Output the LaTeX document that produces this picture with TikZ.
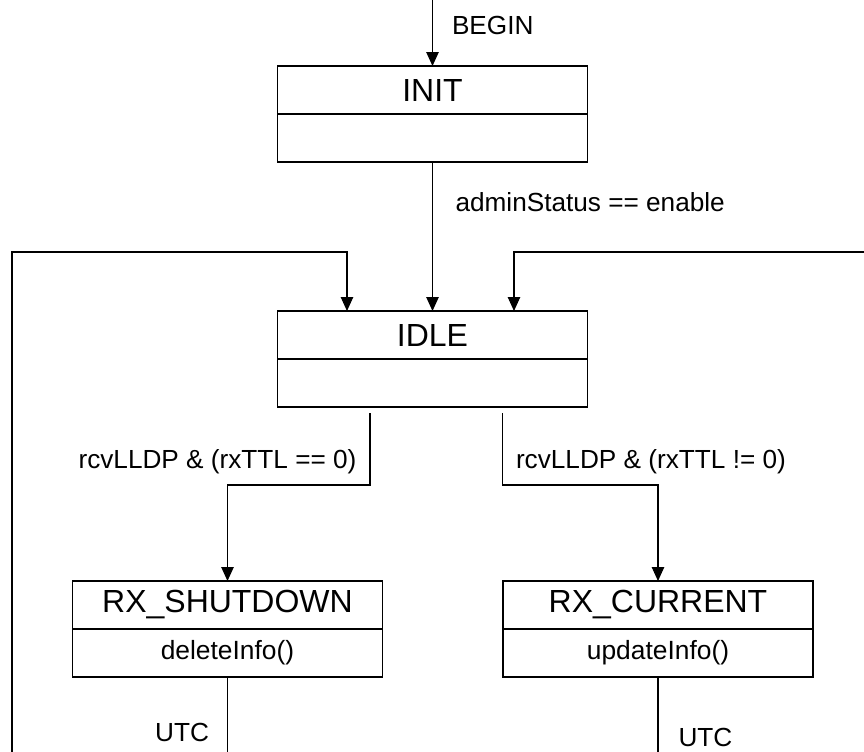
\documentclass[tikz,border=0pt]{standalone}
\usepackage{fontspec}
\setmainfont{Liberation Sans}
\usepackage{tikz}
\usetikzlibrary{positioning,shapes,arrows.meta}
\tikzset{
    state/.style={rectangle, draw, line width=0.7pt, minimum width=6.2cm, minimum height=0.96cm, inner sep=0pt, outer sep=0pt, font=\fontsize{18.2}{22}\selectfont},
    action/.style={state, font=\fontsize{15}{18}\selectfont},
    flow/.style={line width=0.6pt},
    trans/.style={flow, -{Triangle[length=0.28cm, width=0.25cm]}},
    guard/.style={font=\fontsize{14.9}{18}\selectfont, inner sep=0pt}
}

\begin{document}
\begin{tikzpicture}
    \useasboundingbox (0,0) rectangle (17.28,-15.04);

    % States
    \node[state] (init) at (8.65,-1.8) {INIT};
    \node[action, below=0pt of init] (init-act) {};
    \node[state] (idle) at (8.65,-6.7) {IDLE};
    \node[action, below=0pt of idle] (idle-act) {};
    \node[state] (shutdown) at (4.55,-12.1) {RX\_SHUTDOWN};
    \node[action, below=0pt of shutdown] (shutdown-act) {deleteInfo()};
    \node[state] (current) at (13.16,-12.1) {RX\_CURRENT};
    \node[action, below=0pt of current] (current-act) {updateInfo()};

    % Free ends
    \coordinate (start) at (8.65,0);
    \coordinate (fbl) at (0.24,-15.04);
    \coordinate (fbr) at (17.28,-5.04);
    \coordinate (endl) at (4.55,-15.04);
    \coordinate (endr) at (13.16,-15.04);

    % Transitions
    \draw[trans] (start) -- (init) node[pos=0.38, right=0.38cm, guard] {BEGIN};
    \draw[trans] (init-act) -- (idle) node[pos=0.27, right=0.45cm, guard] {adminStatus == enable};
    \draw[trans] (fbl) -- (fbl |- fbr) -| ([xshift=-1.71cm]idle.north);
    \draw[trans] (fbr) -| ([xshift=1.63cm]idle.north);
    \draw[trans] ([xshift=-1.25cm, yshift=-0.12cm]idle-act.south) -- ++(0,-1.44)
        node[pos=0.68, left=0.26cm, guard] {rcvLLDP \& (rxTTL == 0)} -| (shutdown);
    \draw[trans] ([xshift=1.4cm, yshift=-0.12cm]idle-act.south) -- ++(0,-1.44)
        node[pos=0.68, right=0.26cm, guard] {rcvLLDP \& (rxTTL != 0)} -| (current);
    \draw[flow] (shutdown-act) -- (endl) node[pos=0.74, left=0.36cm, guard] {UTC};
    \draw[flow] (current-act) -- (endr) node[pos=0.8, right=0.4cm, guard] {UTC};

\end{tikzpicture}
\end{document}
